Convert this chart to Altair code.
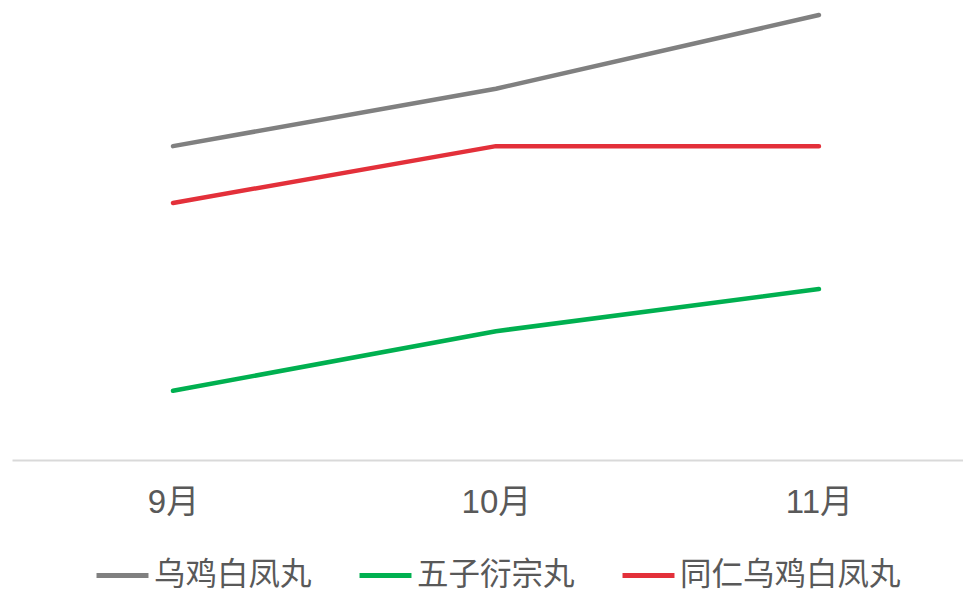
import altair as alt
import pandas as pd

months = ["9月", "10月", "11月"]
series_names = ["乌鸡白凤丸", "五子衍宗丸", "同仁乌鸡白凤丸"]
s_wuji = [5.58, 6.60, 7.91]
s_wuzi = [1.23, 2.29, 3.04]
s_tongren = [4.57, 5.58, 5.58]
colors = ["#808080", "#00B050", "#E3303A"]

rows = []
for name, vals in zip(series_names, [s_wuji, s_wuzi, s_tongren]):
    for i, (m, v) in enumerate(zip(months, vals)):
        rows.append({"idx": i, "month": m, "series": name, "value": v})
df = pd.DataFrame(rows)

font = "Liberation Sans, Noto Sans CJK SC, sans-serif"
label_expr = "[" + ",".join("'%s'" % m for m in months) + "][datum.value]"

chart = alt.Chart(df).mark_line(strokeWidth=4.5, strokeCap="round", strokeJoin="round").encode(
    x=alt.X("idx:Q", title=None,
            scale=alt.Scale(domain=[-0.4985, 2.446], nice=False, zero=False),
            axis=alt.Axis(values=[0, 1, 2], labelExpr=label_expr, labelAngle=0,
                          ticks=False, grid=False, domainColor="#d9d9d9",
                          domainWidth=2, labelFontSize=33, labelColor="#595959",
                          labelFont=font, labelPadding=26, labelFlush=False)),
    y=alt.Y("value:Q", title=None, scale=alt.Scale(domain=[0, 8]), axis=None),
    color=alt.Color("series:N", sort=series_names,
                    scale=alt.Scale(domain=series_names, range=colors),
                    legend=alt.Legend(title=None, orient="none", direction="horizontal",
                                      legendX=82, legendY=537, symbolType="stroke",
                                      symbolStrokeWidth=5, symbolSize=2700,
                                      labelFontSize=31.5, labelColor="#595959", labelFont=font,
                                      labelOffset=3, labelLimit=400, columnPadding=37,
                                      padding=0)),
    detail="series:N",
).properties(
    width=951, height=450,
    padding={"left": 4, "top": 2, "right": 0, "bottom": 0},
).configure_view(stroke=None)

chart.save("out.html", embed_options={"renderer": "svg", "actions": False})
